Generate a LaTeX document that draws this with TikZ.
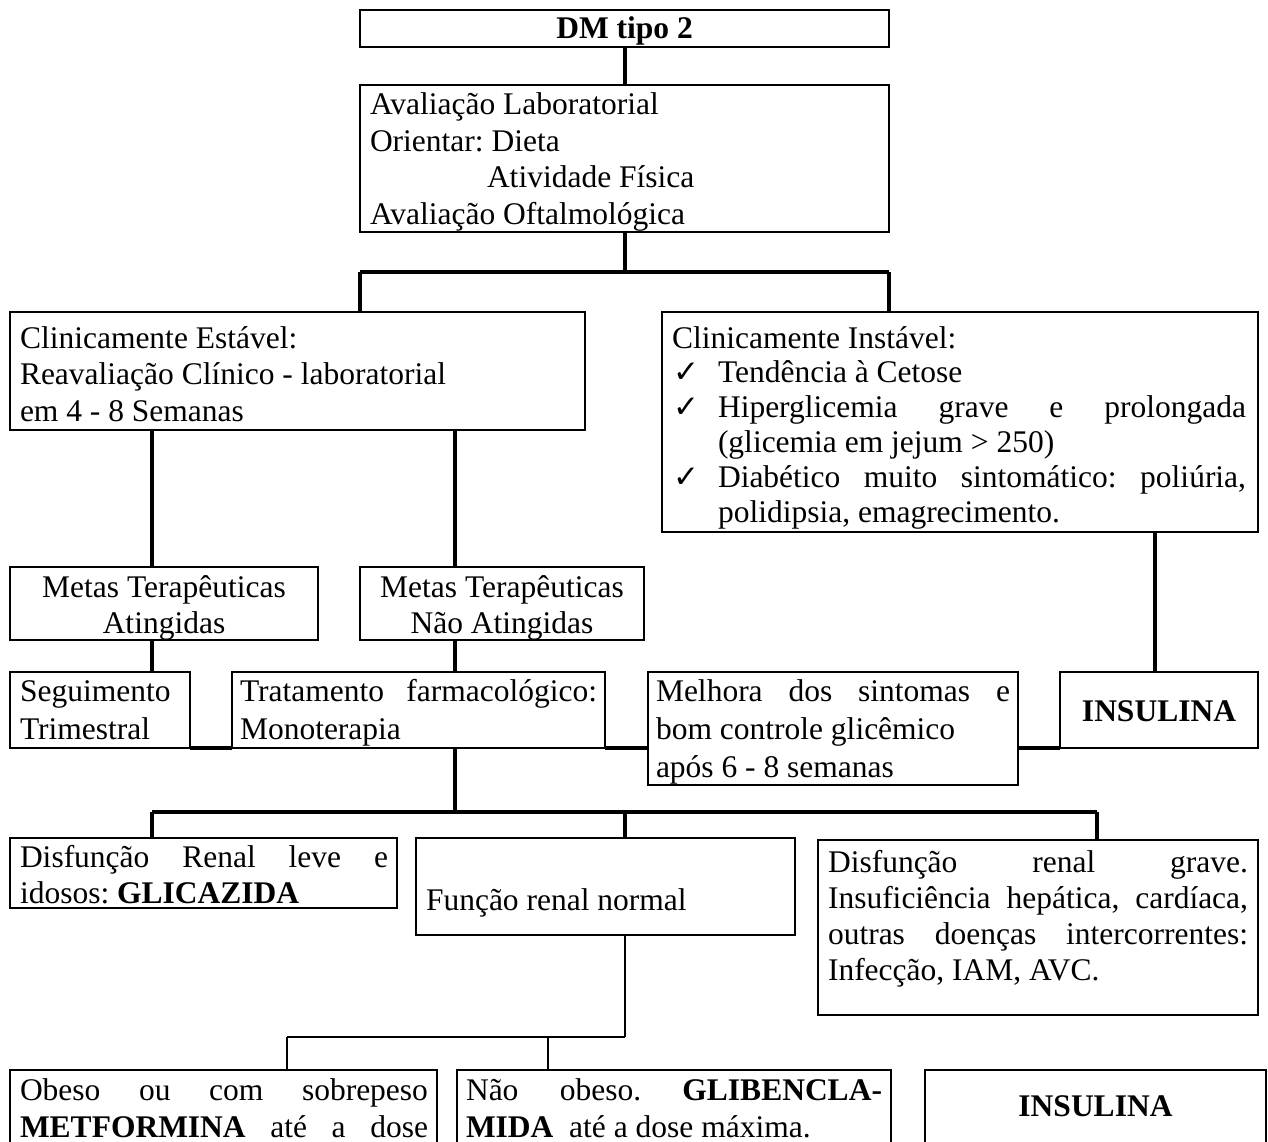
\documentclass[tikz,border=0pt]{standalone}
\usepackage{fontspec}
\setmainfont{Liberation Serif}
\newfontfamily\symf{DejaVu Sans}
\frenchspacing
\newcommand\fs{\noindent\spaceskip=0pt\xspaceskip=0pt\relax\rule{0pt}{26pt}}
\newcommand\ckm{\makebox[46pt][l]{\hspace*{1pt}\symf\fontsize{31}{31}\selectfont ✓}}
\newcommand\jl[2]{{\spaceskip=0pt\xspaceskip=0pt\relax\makebox[#1pt][s]{#2}}}
\begin{document}
\begin{tikzpicture}[x=1pt,y=-1pt,
  box/.style={draw,line width=2.4pt,rectangle,inner sep=0pt,outer sep=0pt,anchor=north west},
  txt/.style={inner sep=0pt,outer sep=0pt,anchor=north west,align=left,font=\fontsize{31.5}{36.5}\selectfont},
  ctxt/.style={inner sep=0pt,outer sep=0pt,anchor=north,align=center,font=\fontsize{31.5}{36.5}\selectfont},
  conn/.style={line width=4pt},
  thin/.style={line width=1.5pt}]
\useasboundingbox (0,0) rectangle (1268,1142);
\clip (0,0) rectangle (1268,1142);
% boxes
\node[box,minimum width=529pt,minimum height=37pt] (dm) at (360,10) {};
\node[box,minimum width=529pt,minimum height=147pt] (aval) at (360,85) {};
\node[box,minimum width=575pt,minimum height=118pt] (est) at (10,312) {};
\node[box,minimum width=596pt,minimum height=220pt] (inst) at (662,312) {};
\node[box,minimum width=308pt,minimum height=73pt] (metasA) at (10,567) {};
\node[box,minimum width=284pt,minimum height=73pt] (metasN) at (360,567) {};
\node[box,minimum width=180pt,minimum height=76pt] (seg) at (10,672) {};
\node[box,minimum width=373pt,minimum height=76pt] (trat) at (232,672) {};
\node[box,minimum width=370pt,minimum height=113pt] (mel) at (648,672) {};
\node[box,minimum width=198pt,minimum height=76pt] (ins) at (1060,672) {};
\node[box,minimum width=387pt,minimum height=70pt] (dleve) at (10,838) {};
\node[box,minimum width=379pt,minimum height=97pt] (func) at (416,838) {};
\node[box,minimum width=440pt,minimum height=175pt] (grave) at (818,840) {};
\node[box,minimum width=427pt,minimum height=100pt] (obeso) at (10,1070) {};
\node[box,minimum width=434pt,minimum height=100pt] (naoob) at (457,1070) {};
\node[box,minimum width=341pt,minimum height=100pt] (ins2) at (925,1070) {};
% texts
\node[ctxt,anchor=base] (dmt) at (624.5,39) {\textbf{DM tipo 2}};
\node[txt,text width=510pt] (avalt) at (370,89) {\fs Avaliação Laboratorial\\Orientar: Dieta\\\hspace*{117pt}Atividade Física\\Avaliação Oftalmológica};
\node[txt,text width=560pt] (estt) at (20,322) {\fs Clinicamente Estável:\\Reavaliação Clínico - laboratorial\\em 4 - 8 Semanas};
\node[txt,text width=576pt,font=\fontsize{31.5}{34.8}\selectfont] (instt) at (672,322) {\fs Clinicamente Instável:\\
\ckm Tendência à Cetose\\
\ckm\jl{528}{Hiperglicemia grave e prolongada}\\
\hspace*{46pt}(glicemia em jejum > 250)\\
\ckm\jl{528}{Diabético muito sintomático: poliúria,}\\
\hspace*{46pt}polidipsia, emagrecimento.};
\node[ctxt,font=\fontsize{31.5}{36}\selectfont] (metasAt) at (164,571) {\rule{0pt}{26pt}Metas Terapêuticas\\Atingidas};
\node[ctxt,font=\fontsize{31.5}{36}\selectfont] (metasNt) at (502,571) {\rule{0pt}{26pt}Metas Terapêuticas\\Não Atingidas};
\node[txt,text width=165pt,font=\fontsize{31.5}{38}\selectfont] (segt) at (20,675) {\fs Seguimento\\Trimestral};
\node[txt,text width=357pt,font=\fontsize{31.5}{38}\selectfont] (tratt) at (240,675) {\fs\jl{357}{Tratamento farmacológico:}\\Monoterapia};
\node[txt,text width=354pt,font=\fontsize{31.5}{38}\selectfont] (melt) at (656,675) {\fs\jl{354}{Melhora dos sintomas e}\\bom controle glicêmico\\após 6 - 8 semanas};
\node[ctxt,anchor=base] (inst2) at (1159,721) {\textbf{INSULINA}};
\node[txt,text width=368pt,font=\fontsize{31.5}{36}\selectfont] (dlevet) at (20,841) {\fs\jl{368}{Disfunção Renal leve e}\\idosos: \textbf{GLICAZIDA}};
\node[txt,anchor=base west] (funct) at (426,910) {Função renal normal};
\node[txt,text width=420pt,font=\fontsize{31.5}{36}\selectfont] (gravet) at (828,846) {\fs\jl{420}{Disfunção renal grave.}\\\jl{420}{Insuficiência hepática, cardíaca,}\\\jl{420}{outras doenças intercorrentes:}\\Infecção, IAM, AVC.};
\node[txt,text width=408pt,font=\fontsize{31.5}{37}\selectfont] (obesot) at (20,1074) {\fs\jl{408}{Obeso ou com sobrepeso}\\\jl{408}{\textbf{METFORMINA} até a dose}};
\node[txt,text width=416pt,font=\fontsize{31.5}{37}\selectfont] (naoobt) at (466,1074) {\fs\jl{416}{Não obeso. \textbf{GLIBENCLA-}}\\\textbf{MIDA}\ \ até a dose máxima.};
\node[ctxt,anchor=base] (ins2t) at (1095.5,1116) {\textbf{INSULINA}};
% helper positions
\coordinate (xA) at (152,0);
\coordinate (xB) at (455,0);
\coordinate (xC) at (625,0);
\coordinate (xD) at (1097,0);
\coordinate (xE) at (1155,0);
\coordinate (xF) at (287,0);
\coordinate (xG) at (548,0);
\coordinate (xL) at (360,0);
\coordinate (xR) at (889,0);
\coordinate (y1) at (0,272);
\coordinate (y2) at (0,812);
\coordinate (y3) at (0,1037);
% connectors
\draw[conn] (dm.south -| xC) -- (aval.north -| xC);
\draw[conn] (aval.south -| xC) -- (xC |- y1);
\draw[conn] (xL |- y1) -- (xR |- y1);
\draw[conn] (xL |- y1) -- (xL |- est.north);
\draw[conn] (xR |- y1) -- (xR |- inst.north);
\draw[conn] (xA |- est.south) -- (xA |- metasA.north);
\draw[conn] (xB |- est.south) -- (xB |- metasN.north);
\draw[conn] (xA |- metasA.south) -- (xA |- seg.north);
\draw[conn] (xB |- metasN.south) -- (xB |- trat.north);
\draw[conn] (seg.south east) -- (trat.south west);
\draw[conn] (trat.south east) -- (trat.south east -| mel.west);
\draw[conn] (ins.south west -| mel.east) -- (ins.south west);
\draw[conn] (xE |- inst.south) -- (xE |- ins.north);
\draw[conn] (xB |- trat.south) -- (xB |- y2);
\draw[conn] (xA |- y2) -- (xD |- y2);
\draw[conn] (xA |- y2) -- (xA |- dleve.north);
\draw[conn] (xC |- y2) -- (xC |- func.north);
\draw[conn] (xD |- y2) -- (xD |- grave.north);
\draw[thin] (xC |- func.south) -- (xC |- y3);
\draw[thin] (xF |- y3) -- (xC |- y3);
\draw[thin] (xF |- y3) -- (xF |- obeso.north);
\draw[thin] (xG |- y3) -- (xG |- naoob.north);
\end{tikzpicture}
\end{document}
